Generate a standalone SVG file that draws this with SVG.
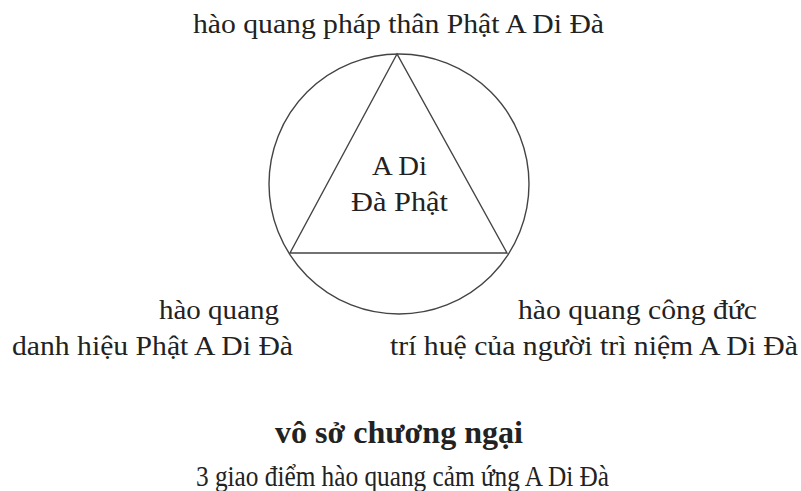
<svg xmlns="http://www.w3.org/2000/svg" width="801" height="491" viewBox="0 0 801 491">
<style>
text{font-family:"Liberation Serif","Times New Roman",serif;fill:#222;font-size:27px}
.b{font-weight:bold;font-size:31px}
.l{font-size:30px}
.ln{fill:none;stroke:#444;stroke-width:1.4}
</style>
<rect width="801" height="491" fill="#fff"/>
<g id="circle"><circle class="ln" cx="399" cy="184" r="130"/></g>
<g id="triangle"><polygon class="ln" points="397,54 290,253 507,253"/></g>
<g id="top-label"><text x="193" y="33" textLength="411" lengthAdjust="spacingAndGlyphs">hào quang pháp thân Phật A Di Đà</text></g>
<g id="center-label">
<text x="372" y="175" textLength="55" lengthAdjust="spacingAndGlyphs">A Di</text>
<text x="351" y="211" textLength="97" lengthAdjust="spacingAndGlyphs">Đà Phật</text>
</g>
<g id="left-label">
<text x="159" y="319" textLength="120" lengthAdjust="spacingAndGlyphs">hào quang</text>
<text x="12" y="355" textLength="281" lengthAdjust="spacingAndGlyphs">danh hiệu Phật A Di Đà</text>
</g>
<g id="right-label">
<text x="518" y="319" textLength="239" lengthAdjust="spacingAndGlyphs">hào quang công đức</text>
<text x="390" y="355" textLength="408" lengthAdjust="spacingAndGlyphs">trí huệ của người trì niệm A Di Đà</text>
</g>
<g id="bottom-label">
<text class="b" x="275" y="443" textLength="248" lengthAdjust="spacingAndGlyphs">vô sở chương ngại</text>
<text class="l" x="196" y="486" textLength="413" lengthAdjust="spacingAndGlyphs">3 giao điểm hào quang cảm ứng A Di Đà</text>
</g>
</svg>
